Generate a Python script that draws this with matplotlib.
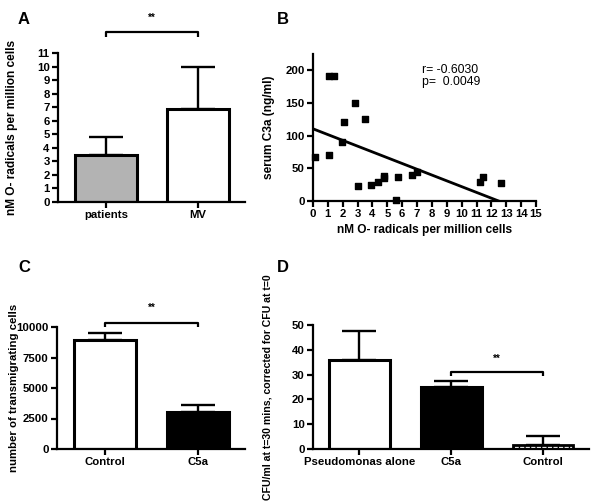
import matplotlib
matplotlib.use("Agg")
import matplotlib.pyplot as plt
import numpy as np

plt.rcParams['font.family'] = ['Liberation Sans', 'DejaVu Sans']
plt.rcParams['font.weight'] = 'bold'
plt.rcParams['axes.linewidth'] = 1.6

# Panel A
a_cats = ["patients", "MV"]
a_vals = [3.5, 6.9]
a_err = [1.3, 3.1]
a_colors = ["#b3b3b3", "white"]

# Panel B
b_x = [0.11, 1.08, 1.39, 1.08, 1.98, 2.09, 2.81, 3.03, 3.48, 3.88, 4.38, 4.76,
       4.80, 5.61, 5.75, 6.65, 7.00, 11.25, 11.43, 12.64]
b_y = [67, 191, 192, 71, 91, 121, 150, 23, 125, 24, 29, 39,
       35, 1, 37, 40, 45, 29, 36, 28]
b_fit_intercept = 110.5
b_fit_slope = -8.85
b_stats = "r= -0.6030\np=  0.0049"

# Panel C
c_cats = ["Control", "C5a"]
c_vals = [8930, 3050]
c_err = [560, 560]
c_colors = ["white", "black"]

# Panel D
d_cats = ["Pseudomonas alone", "C5a", "Control"]
d_vals = [35.9, 24.8, 1.6]
d_err = [11.5, 2.7, 3.8]

fig = plt.figure(figsize=(6, 5.04), dpi=100)

tick_fs = 8.2
lab_fs = 8.6

def style(ax):
    ax.spines['top'].set_visible(False)
    ax.spines['right'].set_visible(False)
    ax.tick_params(width=1.6, length=4, labelsize=tick_fs, pad=2)
    for l in ax.get_xticklabels() + ax.get_yticklabels():
        l.set_fontweight('bold')

def sig(ax, x0, x1, y, ytick, txt_y):
    ax.plot([x0, x0, x1, x1], [ytick, y, y, ytick], color='black', lw=1.6,
            clip_on=False, solid_capstyle='butt')
    ax.text((x0 + x1) / 2, txt_y, "**", ha='center', va='center', fontsize=7,
            fontweight='bold', clip_on=False)

# ---- A ----
axA = fig.add_axes([58/600, 1-202/504, 187/600, 149/504])
xa = np.arange(len(a_cats))
axA.bar(xa, a_vals, width=0.67, color=a_colors, edgecolor='black', linewidth=2.2, zorder=2)
axA.errorbar(xa, a_vals, yerr=[[0, 0], a_err], fmt='none', ecolor='black',
             elinewidth=1.7, capsize=12, capthick=1.7, zorder=1)
axA.set_xlim(-0.52, 1.51)
axA.set_ylim(0, 11)
axA.set_yticks(range(0, 12))
axA.set_xticks(xa)
axA.set_xticklabels(a_cats)
axA.set_ylabel("nM O- radicals per million cells", fontsize=lab_fs, fontweight='bold')
axA.yaxis.set_label_coords(-0.212, 0.5)
style(axA)
sig(axA, 0, 1, 12.55, 12.15, 13.6)

# ---- B ----
axB = fig.add_axes([313/600, 1-201/504, 223/600, 147/504])
axB.scatter(b_x, b_y, marker='s', s=22, color='black', zorder=3, clip_on=False)
x_end = -b_fit_intercept / b_fit_slope
xf = np.array([0, x_end])
axB.plot(xf, b_fit_intercept + b_fit_slope * xf, color='black', lw=2.0)
axB.set_xlim(0, 15)
axB.set_ylim(0, 225)
axB.set_xticks(range(0, 16))
axB.set_yticks([0, 50, 100, 150, 200])
axB.set_xlabel("nM O- radicals per million cells", fontsize=lab_fs, fontweight='bold', labelpad=3)
axB.set_ylabel("serum C3a (ng/ml)", fontsize=lab_fs, fontweight='bold')
axB.yaxis.set_label_coords(-0.17, 0.5)
style(axB)
axB.text(0.49, 0.93, b_stats, transform=axB.transAxes, fontsize=8.8, fontweight='normal',
         va='top', ha='left', linespacing=1.0)

# ---- C ----
axC = fig.add_axes([57/600, 1-449/504, 188/600, 122/504])
xc = np.arange(len(c_cats))
axC.bar(xc, c_vals, width=0.67, color=c_colors, edgecolor='black', linewidth=2.2, zorder=2)
axC.errorbar(xc, c_vals, yerr=[[0, 0], c_err], fmt='none', ecolor='black',
             elinewidth=1.7, capsize=12, capthick=1.7, zorder=1)
axC.set_xlim(-0.52, 1.51)
axC.set_ylim(0, 10000)
axC.set_yticks([0, 2500, 5000, 7500, 10000])
axC.set_xticks(xc)
axC.set_xticklabels(c_cats)
axC.set_ylabel("number of transmigrating cells", fontsize=lab_fs - 0.4, fontweight='bold')
axC.yaxis.set_label_coords(-0.2, 0.5)
style(axC)
sig(axC, 0, 1, 10350, 10000, 11550)

# ---- D ----
axD = fig.add_axes([313/600, 1-449/504, 276/600, 124/504])
xd = np.arange(len(d_cats))
axD.bar(xd[:2], d_vals[:2], width=0.66, color=['white', 'black'], edgecolor='black',
        linewidth=2.2, zorder=2)
axD.bar(xd[2], d_vals[2], width=0.66, color='white', edgecolor='black', hatch='|||',
        linewidth=2.0, zorder=2)
axD.errorbar(xd, d_vals, yerr=[[0, 0, 0], d_err], fmt='none', ecolor='black',
             elinewidth=1.7, capsize=12, capthick=1.7, zorder=1)
axD.set_xlim(-0.505, 2.5)
axD.set_ylim(0, 50)
axD.set_yticks([0, 10, 20, 30, 40, 50])
axD.set_xticks(xd)
axD.set_xticklabels(d_cats)
axD.set_ylabel("CFU/ml at t=30 mins, corrected for CFU at t=0", fontsize=7.6,
               fontweight='bold')
axD.yaxis.set_label_coords(-0.148, 0.5)
style(axD)
sig(axD, 1, 2, 31.2, 29.5, 36.5)

# Panel letters
for lbl, x, y in [("A", 18, 20), ("B", 277, 20), ("C", 18, 268), ("D", 277, 268)]:
    fig.text(x/600, 1-y/504, lbl, fontsize=12, fontweight='bold', ha='left', va='center')

fig.savefig("out.png", dpi=100)
